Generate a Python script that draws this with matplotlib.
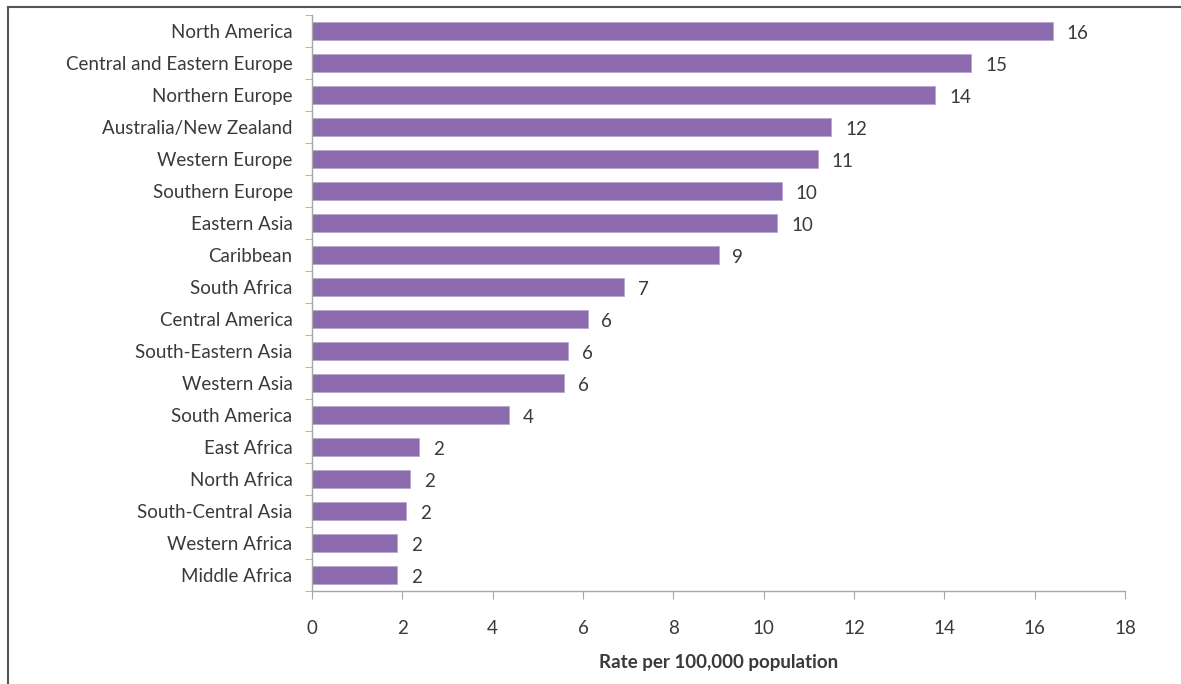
import matplotlib.pyplot as plt
import numpy as np
from matplotlib.lines import Line2D

plt.rcParams["font.family"] = ["Lato", "DejaVu Sans"]

regions = [
    "North America",
    "Central and Eastern Europe",
    "Northern Europe",
    "Australia/New Zealand",
    "Western Europe",
    "Southern Europe",
    "Eastern Asia",
    "Caribbean",
    "South Africa",
    "Central America",
    "South-Eastern Asia",
    "Western Asia",
    "South America",
    "East Africa",
    "North Africa",
    "South-Central Asia",
    "Western Africa",
    "Middle Africa",
]
rates = [16.4, 14.6, 13.8, 11.5, 11.2, 10.4, 10.3, 9.0, 6.9, 6.1,
         5.67, 5.58, 4.36, 2.37, 2.17, 2.08, 1.88, 1.88]
rate_labels = ["16", "15", "14", "12", "11", "10", "10", "9", "7", "6",
               "6", "6", "4", "2", "2", "2", "2", "2"]
xticks = [0, 2, 4, 6, 8, 10, 12, 14, 16, 18]

BAR_COLOR = "#8b6bae"
TEXT_COLOR = "#3a3a3a"
AXIS_COLOR = "#a6a6a6"
FS = 13.5

fig = plt.figure(figsize=(11.81, 6.84), dpi=100)
ax = fig.add_axes([0.2642, 0.136, 0.6884, 0.842])

y = np.arange(len(regions))
ax.barh(y, rates, height=0.55, color=BAR_COLOR, edgecolor="#b8a6cc", linewidth=0.6)

for yi, val, lab in zip(y, rates, rate_labels):
    ax.annotate(lab, (val, yi), xytext=(10, -1.5), textcoords="offset points",
                ha="left", va="center", fontsize=FS, color=TEXT_COLOR)

ax.set_ylim(len(regions) - 0.5, -0.5)
ax.set_xlim(0, 18)
ax.set_yticks(y)
ax.set_yticklabels(regions, fontsize=FS, color=TEXT_COLOR)
ax.set_yticks(np.arange(-0.5, len(regions), 1), minor=True)
ax.tick_params(axis="y", which="major", length=0, pad=14)
ax.tick_params(axis="y", which="minor", length=5, color=AXIS_COLOR, direction="out")

ax.set_xticks(xticks)
ax.set_xticklabels([str(t) for t in xticks], fontsize=FS, color=TEXT_COLOR)
ax.tick_params(axis="x", length=6, color=AXIS_COLOR, direction="out", pad=15)
ax.set_xlabel("Rate per 100,000 population", fontsize=FS, fontweight="bold",
              color=TEXT_COLOR, labelpad=12)

for side in ["top", "right"]:
    ax.spines[side].set_visible(False)
for side in ["left", "bottom"]:
    ax.spines[side].set_color(AXIS_COLOR)
    ax.spines[side].set_linewidth(1.0)

# outer frame of the original figure (top and left edges)
fig.add_artist(Line2D([8 / 1181, 1.0], [1 - 7 / 684, 1 - 7 / 684],
                      transform=fig.transFigure, color="#555555", linewidth=1.5))
fig.add_artist(Line2D([8 / 1181, 8 / 1181], [0.0, 1 - 7 / 684],
                      transform=fig.transFigure, color="#555555", linewidth=1.5))

fig.savefig("out.png", dpi=100)
